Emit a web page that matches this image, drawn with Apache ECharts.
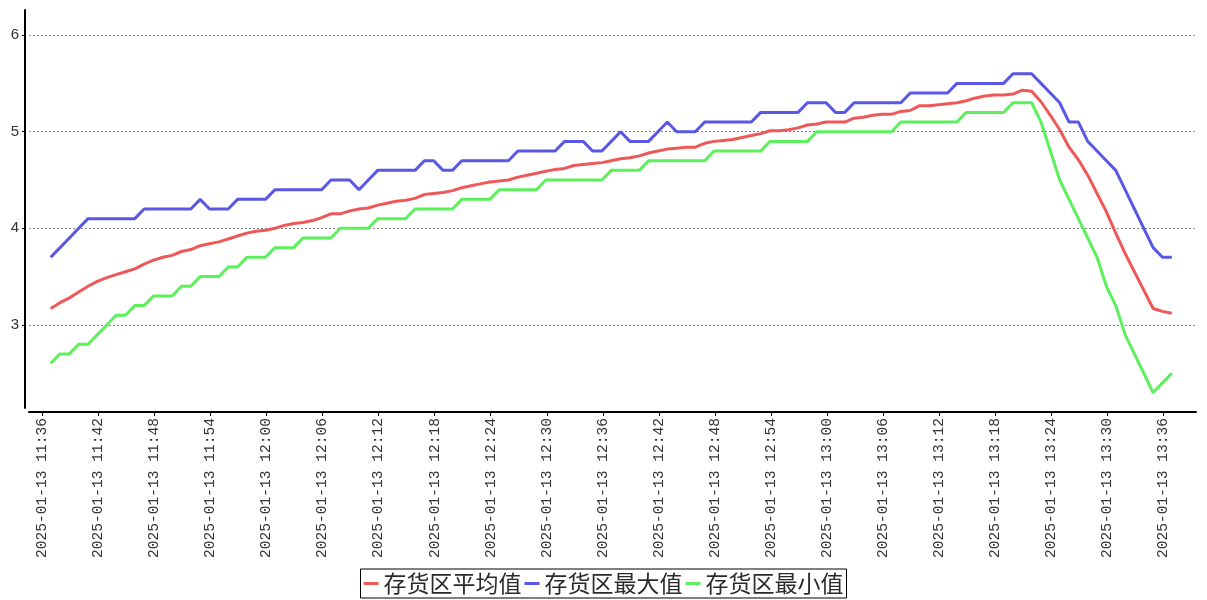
<!DOCTYPE html>
<html><head><meta charset="utf-8">
<script src="https://cdn.jsdelivr.net/npm/echarts@6/dist/echarts.min.js"></script>
<style>html,body{margin:0;padding:0;background:#fff}#c{width:1207px;height:600px}</style>
</head><body><div id="c"></div>
<script>
const seriesNames = ['存货区平均值', '存货区最大值', '存货区最小值'];
const times = [
"11:36:54","11:37:54","11:38:54","11:39:54","11:40:54","11:41:54","11:42:54","11:43:54","11:44:54","11:45:54","11:46:54","11:47:54","11:48:54","11:49:54","11:50:54","11:51:54","11:52:54","11:53:54","11:54:54","11:55:54","11:56:54","11:57:54","11:58:54","11:59:54",
"12:00:54","12:01:54","12:02:54","12:03:54","12:04:54","12:05:54","12:06:54","12:07:54","12:08:54","12:09:54","12:10:54","12:11:54","12:12:54","12:13:54","12:14:54","12:15:54","12:16:54","12:17:54","12:18:54","12:19:54","12:20:54","12:21:54","12:22:54","12:23:54","12:24:54","12:25:54","12:26:54","12:27:54","12:28:54","12:29:54",
"12:30:54","12:31:54","12:32:54","12:33:54","12:34:54","12:35:54","12:36:54","12:37:54","12:38:54","12:39:54","12:40:54","12:41:54","12:42:54","12:43:54","12:44:54","12:45:54","12:46:54","12:47:54","12:48:54","12:49:54","12:50:54","12:51:54","12:52:54","12:53:54","12:54:54","12:55:54","12:56:54","12:57:54","12:58:54","12:59:54",
"13:00:54","13:01:54","13:02:54","13:03:54","13:04:54","13:05:54","13:06:54","13:07:54","13:08:54","13:09:54","13:10:54","13:11:54","13:12:54","13:13:54","13:14:54","13:15:54","13:16:54","13:17:54","13:18:54","13:19:54","13:20:54","13:21:54","13:22:54","13:23:54","13:24:54","13:25:54","13:26:54","13:27:54","13:28:54","13:29:54",
"13:30:54","13:31:54","13:32:54","13:33:54","13:34:54","13:35:54","13:36:54"
];
const avgValues = [
3.17,3.23,3.28,3.34,3.40,3.45,3.49,3.52,3.55,3.58,3.63,3.67,3.70,3.72,3.76,3.78,3.82,3.84,3.86,3.89,3.92,3.95,3.97,3.98,4.00,4.03,4.05,4.06,4.08,
4.11,4.15,4.15,4.18,4.20,4.21,4.24,4.26,4.28,4.29,4.31,4.35,4.36,4.37,4.39,4.42,4.44,4.46,4.48,4.49,4.50,4.53,4.55,4.57,4.59,4.61,4.62,4.65,4.66,4.67,
4.68,4.70,4.72,4.73,4.75,4.78,4.80,4.82,4.83,4.84,4.84,4.88,4.90,4.91,4.92,4.94,4.96,4.98,5.01,5.01,5.02,5.04,5.07,5.08,5.10,5.10,5.10,5.14,5.15,5.17,5.18,5.18,5.21,
5.22,5.27,5.27,5.28,5.29,5.30,5.32,5.35,5.37,5.38,5.38,5.39,5.43,5.42,5.31,5.17,5.02,4.84,4.71,4.55,4.36,4.17,3.95,3.74,3.55,3.36,3.17,3.14,3.12
];
const maxValues = [
3.7,3.8,3.9,4.0,4.1,4.1,4.1,4.1,4.1,4.1,4.2,4.2,4.2,4.2,4.2,4.2,4.3,4.2,4.2,4.2,
4.3,4.3,4.3,4.3,4.4,4.4,4.4,4.4,4.4,4.4,4.5,4.5,4.5,4.4,4.5,4.6,4.6,4.6,4.6,4.6,
4.7,4.7,4.6,4.6,4.7,4.7,4.7,4.7,4.7,4.7,4.8,4.8,4.8,4.8,4.8,4.9,4.9,4.9,4.8,4.8,
4.9,5.0,4.9,4.9,4.9,5.0,5.1,5.0,5.0,5.0,5.1,5.1,5.1,5.1,5.1,5.1,5.2,5.2,5.2,5.2,
5.2,5.3,5.3,5.3,5.2,5.2,5.3,5.3,5.3,5.3,5.3,5.3,5.4,5.4,5.4,5.4,5.4,5.5,5.5,5.5,
5.5,5.5,5.5,5.6,5.6,5.6,5.5,5.4,5.3,5.1,5.1,4.9,4.8,4.7,4.6,4.4,4.2,4.0,3.8,3.7,
3.7
];
const minValues = [
2.6,2.7,2.7,2.8,2.8,2.9,3.0,3.1,3.1,3.2,3.2,3.3,3.3,3.3,3.4,3.4,3.5,3.5,3.5,3.6,
3.6,3.7,3.7,3.7,3.8,3.8,3.8,3.9,3.9,3.9,3.9,4.0,4.0,4.0,4.0,4.1,4.1,4.1,4.1,4.2,
4.2,4.2,4.2,4.2,4.3,4.3,4.3,4.3,4.4,4.4,4.4,4.4,4.4,4.5,4.5,4.5,4.5,4.5,4.5,4.5,
4.6,4.6,4.6,4.6,4.7,4.7,4.7,4.7,4.7,4.7,4.7,4.8,4.8,4.8,4.8,4.8,4.8,4.9,4.9,4.9,
4.9,4.9,5.0,5.0,5.0,5.0,5.0,5.0,5.0,5.0,5.0,5.1,5.1,5.1,5.1,5.1,5.1,5.1,5.2,5.2,
5.2,5.2,5.2,5.3,5.3,5.3,5.1,4.8,4.5,4.3,4.1,3.9,3.7,3.4,3.2,2.9,2.7,2.5,2.3,2.4,
2.5
];
const tickLabels = [
"2025-01-13 11:36","2025-01-13 11:42","2025-01-13 11:48","2025-01-13 11:54","2025-01-13 12:00","2025-01-13 12:06","2025-01-13 12:12",
"2025-01-13 12:18","2025-01-13 12:24","2025-01-13 12:30","2025-01-13 12:36","2025-01-13 12:42","2025-01-13 12:48","2025-01-13 12:54",
"2025-01-13 13:00","2025-01-13 13:06","2025-01-13 13:12","2025-01-13 13:18","2025-01-13 13:24","2025-01-13 13:30","2025-01-13 13:36"
];
const yTickValues = [3, 4, 5, 6];
const colors = ['#ef5858', '#5858e4', '#5cf05c'];

function toMin(s) {
  const p = s.split(':').map(Number);
  return p[0] * 60 + p[1] + (p[2] || 0) / 60;
}
const xs = times.map(toMin);
const tickVals = tickLabels.map(l => toMin(l.split(' ')[1]));
const labelMap = {};
tickVals.forEach((v, i) => { labelMap[v.toFixed(3)] = tickLabels[i]; });

const chart = echarts.init(document.getElementById('c'), null, {renderer: 'canvas'});
const mk = vals => vals.map((v, i) => [xs[i], v]);
const option = {
  animation: false,
  color: colors,
  grid: {left: 29, right: 11, top: 10, bottom: 192, containLabel: false},
  legend: {
    data: seriesNames, bottom: 2, left: 'center',
    icon: 'rect', itemWidth: 15, itemHeight: 3, itemGap: 3,
    borderColor: '#000', borderWidth: 1, padding: [3, 3, 3, 3],
    textStyle: {fontSize: 23, color: '#2a2a2a', fontFamily: '"Noto Sans CJK SC", sans-serif'}
  },
  xAxis: {
    type: 'value', min: 694.58, max: 819.49, offset: 4,
    axisLine: {show: true, lineStyle: {color: '#000', width: 2}},
    axisTick: {show: true, customValues: tickVals, length: 4, lineStyle: {color: '#000'}},
    axisLabel: {
      customValues: tickVals, rotate: 90, margin: 6,
      fontFamily: '"Liberation Mono", monospace', fontSize: 14.6, color: '#333',
      formatter: v => labelMap[Number(v).toFixed(3)] || ''
    },
    splitLine: {show: false}
  },
  yAxis: {
    type: 'value', min: 2.14, max: 6.26, offset: 4,
    axisLine: {show: true, lineStyle: {color: '#000', width: 2}},
    axisTick: {show: true, customValues: yTickValues, length: 3, lineStyle: {color: '#000'}},
    axisLabel: {customValues: yTickValues, margin: 6, fontSize: 15, color: '#333', fontFamily: '"Liberation Sans", sans-serif'},
    splitLine: {show: true, lineStyle: {color: '#888', type: [2, 2], width: 1}}
  },
  series: [
    {name: seriesNames[0], type: 'line', data: mk(avgValues), showSymbol: false, lineStyle: {width: 3}},
    {name: seriesNames[1], type: 'line', data: mk(maxValues), showSymbol: false, lineStyle: {width: 3}},
    {name: seriesNames[2], type: 'line', data: mk(minValues), showSymbol: false, lineStyle: {width: 3}}
  ]
};
chart.setOption(option);
</script></body></html>
